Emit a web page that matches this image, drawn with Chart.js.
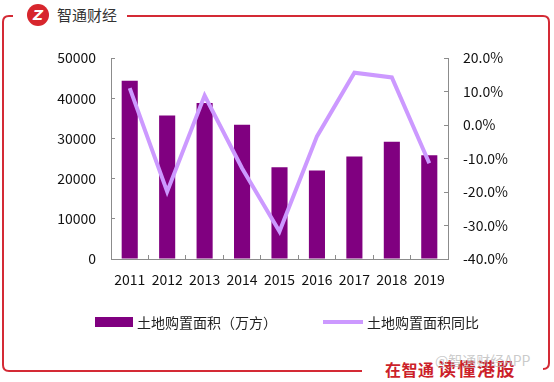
<!DOCTYPE html>
<html>
<head>
<meta charset="utf-8">
<script src="https://cdn.jsdelivr.net/npm/chart.js@4"></script>
<style>
  html, body { margin: 0; padding: 0; background: #fff; }
  #wrap { position: relative; width: 554px; height: 382px; overflow: hidden; }
  #frame { position: absolute; left: 0; top: 0; }
  #chart { position: absolute; left: 0; top: 0; }
  .legend-item {
    position: absolute;
    top: 312px;
    height: 20px;
    display: flex;
    align-items: center;
    font-family: 'Noto Sans CJK SC', sans-serif;
    font-size: 14px;
    color: #222;
    white-space: nowrap;
  }
  .legend-swatch { display: inline-block; margin-right: 4px; }
</style>
</head>
<body>
<div id="wrap">
  <svg id="frame" width="554" height="382">
    <path d="M13 16 L9 16 Q3 16 3 22 L3 365 Q3 371 9 371 L362 371" fill="none" stroke="#d42a35" stroke-width="2"/>
    <path d="M127 16 L543 16 Q549 16 549 22 L549 363 Q549 369 543 369" fill="none" stroke="#d42a35" stroke-width="2"/>
    <circle cx="38" cy="15" r="11" fill="#d7262d"/>
    <text x="38" y="20" text-anchor="middle" font-family="DejaVu Sans" font-weight="bold" font-style="italic" font-size="14" fill="#fff">Z</text>
    <text x="57" y="21" font-family="Noto Sans CJK SC" font-size="15" fill="#333">智通财经</text>
    <text x="385" y="376" font-family="Noto Sans CJK SC" font-weight="bold" font-size="16" fill="#cc1f2a" letter-spacing="0.5">在智通</text>
    <text x="438" y="376" font-family="Noto Sans CJK SC" font-weight="bold" font-size="18" fill="#cc1f2a" letter-spacing="1.5">读懂港股</text>
    <text x="435" y="366" font-family="Noto Sans CJK SC" font-size="14" fill="rgba(185,185,185,0.75)">@智通财经APP</text>
  </svg>
  <canvas id="chart" width="554" height="382"></canvas>
  <div id="legend"></div>
</div>
<script>
const years = ["2011", "2012", "2013", "2014", "2015", "2016", "2017", "2018", "2019"];
const landArea = [44327, 35667, 38814, 33383, 22811, 22025, 25508, 29142, 25822];
const landAreaYoY = [11.0, -19.9, 8.8, -12.9, -31.8, -3.4, 15.6, 14.2, -11.4];

const areaLabel = "土地购置面积（万方）";
const yoyLabel = "土地购置面积同比";

const barColor = "#800080";
const lineColor = "#cc99ff";
const fontFamily = "'Noto Sans CJK SC', 'Liberation Sans', sans-serif";
const axisColor = "#8c8c8c";

function formatPercent(value) {
  return `${Number(value).toFixed(1)}%`;
}

// ticks point inward like the original (negative tick length)
const innerGrid = { drawOnChartArea: false, tickLength: -4, color: axisColor };

function buildChart() {
  const canvas = document.getElementById("chart");

  return new Chart(canvas, {
    data: {
      labels: years,
      datasets: [
        {
          type: "line",
          label: yoyLabel,
          data: landAreaYoY,
          yAxisID: "yRight",
          borderColor: lineColor,
          backgroundColor: lineColor,
          borderWidth: 4,
          pointRadius: 0,
          tension: 0,
          order: 0
        },
        {
          type: "bar",
          label: areaLabel,
          data: landArea,
          yAxisID: "yLeft",
          backgroundColor: barColor,
          borderWidth: 0,
          categoryPercentage: 1,
          barPercentage: 0.43,
          order: 1
        }
      ]
    },
    options: {
      responsive: false,
      animation: false,
      layout: {
        padding: { left: 0, right: 0, top: 58, bottom: 93 }
      },
      plugins: {
        tooltip: { enabled: false },
        legend: { display: false }
      },
      scales: {
        x: {
          afterFit(scale) {
            scale.height = 30;
          },
          grid: { ...innerGrid, offset: true },
          border: { color: axisColor, width: 1 },
          ticks: {
            padding: 16,
            color: "#111",
            font: { family: fontFamily, size: 14 }
          }
        },
        yLeft: {
          position: "left",
          min: 0,
          max: 50000,
          afterFit(scale) {
            scale.width = 111;
          },
          grid: innerGrid,
          border: { color: axisColor, width: 1 },
          ticks: {
            stepSize: 10000,
            padding: 19,
            color: "#111",
            font: { family: fontFamily, size: 14 },
            callback(value) {
              return String(value);
            }
          }
        },
        yRight: {
          position: "right",
          min: -40,
          max: 20,
          afterFit(scale) {
            scale.width = 106;
          },
          grid: innerGrid,
          border: { color: axisColor, width: 1 },
          ticks: {
            stepSize: 10,
            padding: 19,
            color: "#111",
            font: { family: fontFamily, size: 14 },
            callback(value) {
              return formatPercent(value);
            }
          }
        }
      }
    }
  });
}

function renderLegend(chart) {
  const legendEl = document.getElementById("legend");
  if (!legendEl) return;

  const bar = chart.data.datasets[1];
  const line = chart.data.datasets[0];

  legendEl.innerHTML = `
    <div class="legend-item" style="left:95px">
      <span class="legend-swatch" style="width:38px;height:10px;background:${bar.backgroundColor}"></span>${bar.label}
    </div>
    <div class="legend-item" style="left:323px">
      <span class="legend-swatch" style="width:40px;height:4px;background:${line.borderColor}"></span>${line.label}
    </div>
  `;
}

const chart = buildChart();
renderLegend(chart);
</script>
</body>
</html>
